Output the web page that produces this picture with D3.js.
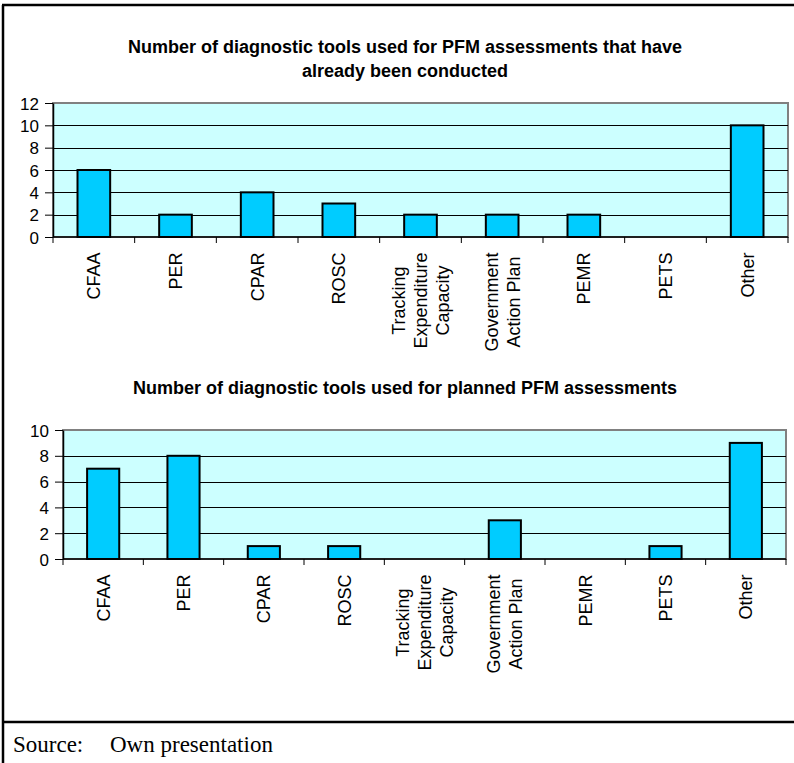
<!DOCTYPE html>
<html lang="en">
<head>
  <meta charset="UTF-8">
  <title>Diagnostic tools used for PFM assessments</title>
  <style>
    body {
      margin: 0;
      background: #fff;
    }
    svg {
      display: block;
    }
    .title {
      font-family: Arial, "Liberation Sans", sans-serif;
      font-size: 18px;
      font-weight: bold;
      fill: #000;
    }
    .tick text {
      font-family: Arial, "Liberation Sans", sans-serif;
      font-size: 17px;
      fill: #000;
    }
    .cat-label {
      font-family: Arial, "Liberation Sans", sans-serif;
      font-size: 18px;
      fill: #000;
    }
    .source {
      font-family: "Times New Roman", "Liberation Serif", serif;
      font-size: 23px;
      fill: #000;
    }
  </style>
  <script src="https://d3js.org/d3.v7.min.js"></script>
</head>
<body>

<svg width="794" height="763"></svg>

<script>
  // chart data
  const categories = ["CFAA", "PER", "CPAR", "ROSC", "Tracking Expenditure Capacity",
                      "Government Action Plan", "PEMR", "PETS", "Other"];
  const categoryLines = [["CFAA"], ["PER"], ["CPAR"], ["ROSC"],
                         ["Tracking", "Expenditure", "Capacity"],
                         ["Government", "Action Plan"], ["PEMR"], ["PETS"], ["Other"]];
  const conductedCounts = [6, 2, 4, 3, 2, 2, 2, 0, 10];
  const plannedCounts = [7, 8, 1, 1, 0, 3, 0, 1, 9];
  const conductedTicks = [0, 2, 4, 6, 8, 10, 12];
  const plannedTicks = [0, 2, 4, 6, 8, 10];
  const conductedTitle = ["Number of diagnostic tools used for PFM assessments that have",
                          "already been conducted"];
  const plannedTitle = ["Number of diagnostic tools used for planned PFM assessments"];

  const svg = d3.select("svg"),
        width = +svg.attr("width"),
        height = +svg.attr("height");

  // outer frame of the figure box
  svg.append("line").attr("x1", 2).attr("x2", width).attr("y1", 5).attr("y2", 5)
    .attr("stroke", "#000").attr("stroke-width", 2.5);
  svg.append("line").attr("x1", 3).attr("x2", 3).attr("y1", 5).attr("y2", height)
    .attr("stroke", "#000").attr("stroke-width", 2.5);
  svg.append("line").attr("x1", 2).attr("x2", width).attr("y1", 722).attr("y2", 722)
    .attr("stroke", "#000").attr("stroke-width", 2.5);

  svg.append("text").attr("class", "source").attr("x", 13).attr("y", 752).text("Source:");
  svg.append("text").attr("class", "source").attr("x", 110).attr("y", 752).text("Own presentation");

  function drawChart(values, ticks, titleLines, box) {
    const g = svg.append("g");

    // title, centered above the plot
    titleLines.forEach((t, i) => {
      g.append("text")
        .attr("class", "title")
        .attr("x", 405)
        .attr("y", box.titleY + i * 24)
        .attr("text-anchor", "middle")
        .text(t);
    });

    const x = d3.scaleBand()
      .domain(categories)
      .range([box.left, box.right])
      .padding(0);

    const y = d3.scaleLinear()
      .domain([0, d3.max(ticks)])
      .range([box.bottom, box.top]);

    // plot area
    g.append("rect")
      .attr("x", box.left)
      .attr("y", box.top)
      .attr("width", box.right - box.left)
      .attr("height", box.bottom - box.top)
      .attr("fill", "#ccffff")
      .attr("stroke", "#808080")
      .attr("stroke-width", 2);

    // gridlines
    g.append("g")
      .selectAll("line")
      .data(ticks.filter(t => t > 0 && t < d3.max(ticks)))
      .enter().append("line")
        .attr("x1", box.left)
        .attr("x2", box.right)
        .attr("y1", d => Math.round(y(d)) + 0.5)
        .attr("y2", d => Math.round(y(d)) + 0.5)
        .attr("stroke", "#000")
        .attr("stroke-width", 1);

    // bars (zero values are not drawn)
    const barW = x.bandwidth() * 0.4;
    g.append("g")
      .selectAll("rect")
      .data(categories.map((c, i) => ({ c, v: values[i] })).filter(d => d.v > 0))
      .enter().append("rect")
        .attr("x", d => x(d.c) + (x.bandwidth() - barW) / 2)
        .attr("y", d => y(d.v))
        .attr("width", barW)
        .attr("height", d => y(0) - y(d.v))
        .attr("fill", "#00ccff")
        .attr("stroke", "#000")
        .attr("stroke-width", 2);

    // y axis
    const yAxis = d3.axisLeft(y)
      .tickValues(ticks)
      .tickSize(8)
      .tickPadding(6)
      .tickSizeOuter(0);
    const ya = g.append("g")
      .attr("transform", `translate(${box.left},0)`)
      .call(yAxis);
    ya.select(".domain").attr("stroke", "#000").attr("stroke-width", 1.5);
    ya.selectAll(".tick line").attr("stroke", "#000");
    ya.selectAll(".tick text").attr("dy", "0.36em");

    // x axis line with ticks on the category boundaries
    g.append("line")
      .attr("x1", box.left).attr("x2", box.right)
      .attr("y1", box.bottom).attr("y2", box.bottom)
      .attr("stroke", "#000").attr("stroke-width", 1.5);
    const bounds = categories.map(c => x(c)).concat([x.range()[1]]);
    g.append("g")
      .selectAll("line")
      .data(bounds)
      .enter().append("line")
        .attr("x1", d => d).attr("x2", d => d)
        .attr("y1", box.bottom).attr("y2", box.bottom + 6)
        .attr("stroke", "#000");

    // rotated category labels, block top near the axis, lines centered in the block
    const lineH = 22;
    categories.forEach((c, i) => {
      const lines = categoryLines[i];
      const lg = g.append("g")
        .attr("transform", `translate(${x(c) + x.bandwidth() / 2},${box.bottom + 15.5}) rotate(-90)`);
      const texts = lines.map((t, j) => lg.append("text")
        .attr("class", "cat-label")
        .attr("text-anchor", "middle")
        .attr("y", (j - (lines.length - 1) / 2) * lineH + 6.5)
        .text(t));
      const longest = d3.max(texts, t => t.node().getComputedTextLength());
      texts.forEach(t => t.attr("x", -longest / 2));
    });
  }

  drawChart(conductedCounts, conductedTicks, conductedTitle,
    { left: 53, right: 788, top: 103, bottom: 237, titleY: 53 });
  drawChart(plannedCounts, plannedTicks, plannedTitle,
    { left: 63, right: 786, top: 430, bottom: 559, titleY: 394 });
</script>

</body>
</html>
